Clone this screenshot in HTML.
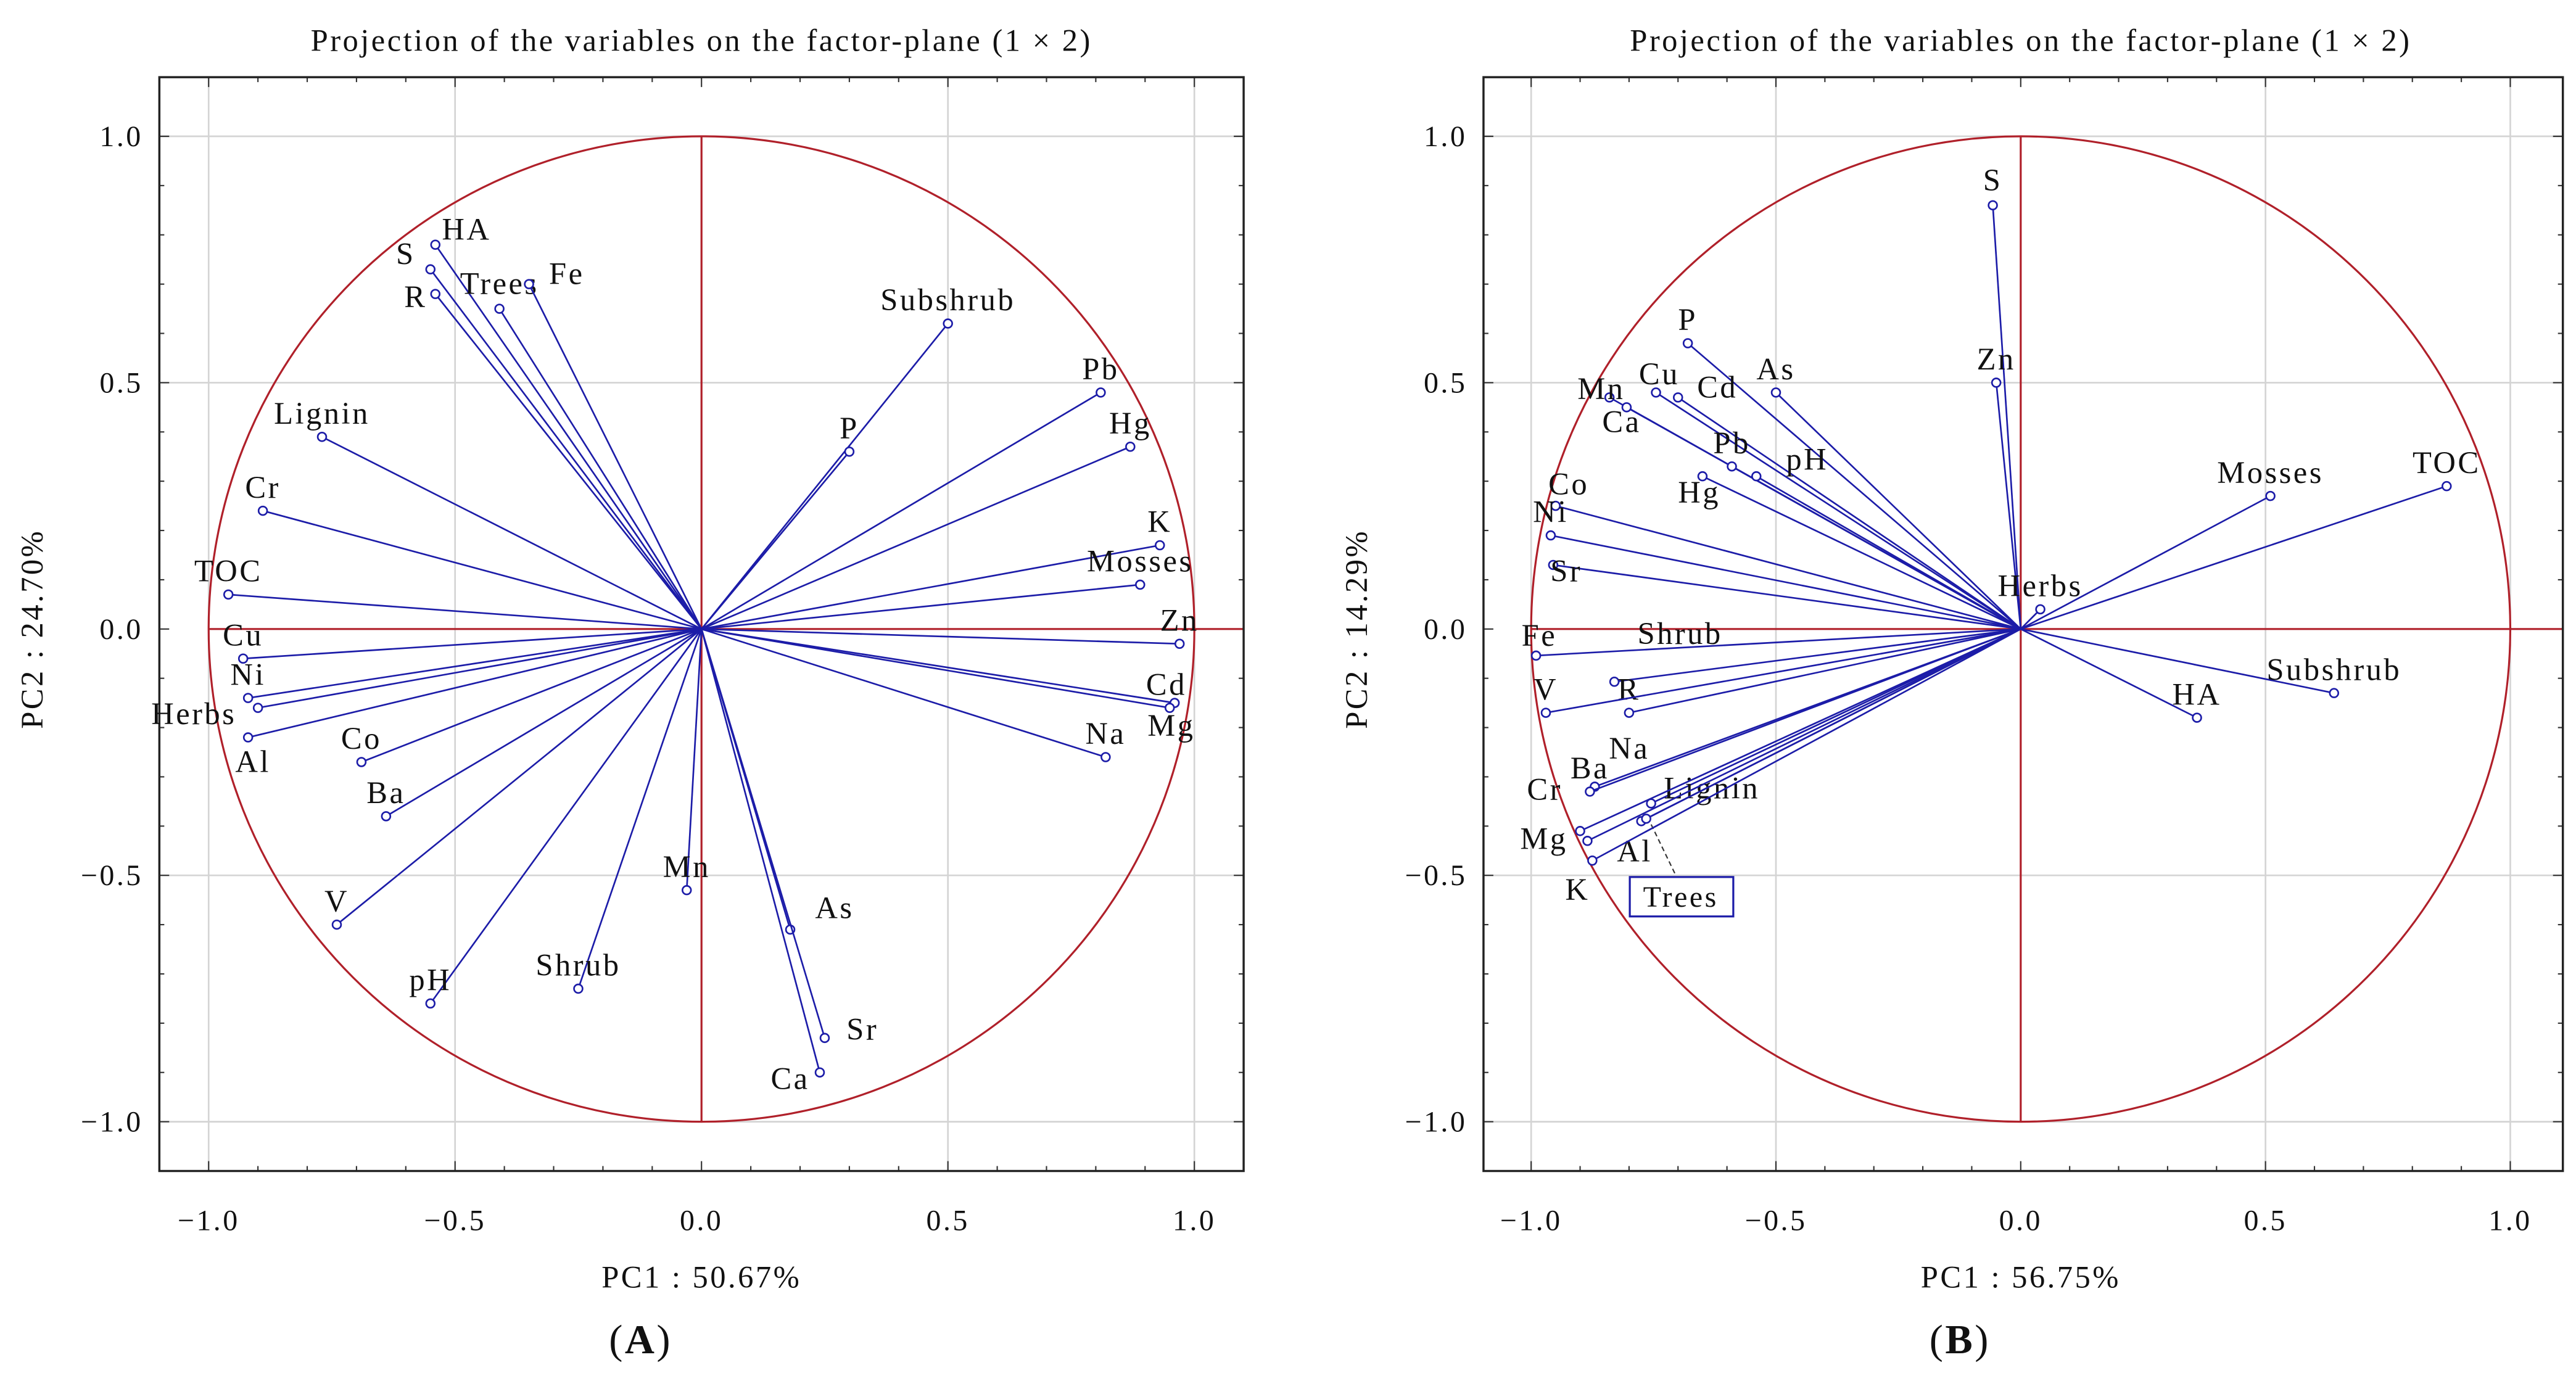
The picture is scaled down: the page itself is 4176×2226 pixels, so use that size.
<!DOCTYPE html>
<html><head><meta charset="utf-8"><style>
html,body{margin:0;padding:0;background:#fff;}
svg{display:block;}
text{font-family:"Liberation Serif",serif;fill:#111;letter-spacing:1.3px;}
</style></head>
<body>
<svg id="fig" width="4176" height="2226" viewBox="0 0 1568 836" preserveAspectRatio="none" xmlns="http://www.w3.org/2000/svg"></svg>
<script>
// Panel A data
const namesA = ["S","HA","R","Trees","Fe","Subshrub","P","Pb","Hg","K","Mosses","Zn","Cd","Mg","Na","Lignin","Cr","TOC","Cu","Ni","Herbs","Al","Co","Ba","V","pH","Shrub","Mn","As","Sr","Ca"];
const pc1A = [-0.55,-0.54,-0.54,-0.41,-0.35,0.50,0.30,0.81,0.87,0.93,0.89,0.97,0.96,0.95,0.82,-0.77,-0.89,-0.96,-0.93,-0.92,-0.90,-0.92,-0.69,-0.64,-0.74,-0.55,-0.25,-0.03,0.18,0.25,0.24];
const pc2A = [0.73,0.78,0.68,0.65,0.70,0.62,0.36,0.48,0.37,0.17,0.09,-0.03,-0.15,-0.16,-0.26,0.39,0.24,0.07,-0.06,-0.14,-0.16,-0.22,-0.27,-0.38,-0.60,-0.76,-0.73,-0.53,-0.61,-0.83,-0.90];
// Panel B data
const namesB = ["S","Zn","P","As","Cu","Cd","Mn","Ca","Pb","pH","Hg","Co","Ni","Sr","Herbs","Mosses","TOC","Subshrub","HA","Fe","Shrub","R","V","Na","Ba","Lignin","Trees","Al","Mg","Cr","K"];
const pc1B = [-0.057,-0.05,-0.68,-0.50,-0.745,-0.70,-0.84,-0.805,-0.59,-0.54,-0.65,-0.95,-0.96,-0.955,0.04,0.51,0.87,0.64,0.36,-0.99,-0.83,-0.80,-0.97,-0.87,-0.88,-0.755,-0.775,-0.765,-0.90,-0.885,-0.875];
const pc2B = [0.86,0.50,0.58,0.48,0.48,0.47,0.47,0.45,0.33,0.31,0.31,0.25,0.19,0.13,0.04,0.27,0.29,-0.13,-0.18,-0.054,-0.107,-0.17,-0.17,-0.32,-0.33,-0.354,-0.39,-0.385,-0.41,-0.43,-0.47];
const tickVals = [-1.0,-0.5,0.0,0.5,1.0];
const tickLabels = ["\u22121.0","\u22120.5","0.0","0.5","1.0"];

// label placement (styling only)
const offA = {S:[-15,-9],HA:[19,-9],R:[-12,2],Trees:[0,-15],Fe:[23,-6],Mg:[1,11],Herbs:[-39,4],Al:[3,15],As:[27,-13],Sr:[23,-5],Ca:[-18,4],Cd:[-5,-11]};
const offB = {S:[0,-15],Cu:[2,-11],Cd:[24,-6],Mn:[-5,-5],Ca:[-3,9],pH:[31,-10],Hg:[-2,10],Co:[8,-13],Sr:[8,4],Shrub:[40,-29],Na:[21,-23],Lignin:[37,-9],Al:[-7,20],Mg:[-22,5],Cr:[-26,-31],K:[-9,18],Fe:[2,-12]};

const NS="http://www.w3.org/2000/svg";
const svg=document.getElementById('fig');
function mk(tag,attrs,parent){const e=document.createElementNS(NS,tag);for(const k in attrs)e.setAttribute(k,attrs[k]);(parent||svg).appendChild(e);return e;}

function panel(cfg){
  const g=mk('g',{});
  
  
  const sx=v=>cfg.x0+v*cfg.ux, sy=v=>cfg.y0-v*cfg.uy;
  const L=cfg.left,R=cfg.right,T=47,B=713;
  tickVals.forEach(v=>{
    if(v!==0){
      const gx=mk('line',{x1:sx(v),x2:sx(v),y1:T,y2:B,stroke:'#d4d4d4','stroke-width':1},g);
      
      const gy=mk('line',{x1:L,x2:R,y1:sy(v),y2:sy(v),stroke:'#d4d4d4','stroke-width':1},g);
      
    }
  });
  for(let i=-10;i<=10;i++){
    const v=i/10,len=(i%5===0)?6:3;
    mk('line',{x1:sx(v),x2:sx(v),y1:B,y2:B-len,stroke:'#333','stroke-width':0.8},g);
    mk('line',{x1:sx(v),x2:sx(v),y1:T,y2:T+len,stroke:'#333','stroke-width':0.8},g);
    mk('line',{x1:L,x2:L+len,y1:sy(v),y2:sy(v),stroke:'#333','stroke-width':0.8},g);
    mk('line',{x1:R,x2:R-len,y1:sy(v),y2:sy(v),stroke:'#333','stroke-width':0.8},g);
  }
  const c=mk('ellipse',{cx:sx(0),cy:sy(0),rx:cfg.ux,ry:cfg.uy,fill:'none',stroke:'#b0202a','stroke-width':1.2},g);
  
  const ah=mk('line',{x1:sx(-1),x2:R,y1:sy(0),y2:sy(0),stroke:'#b0202a','stroke-width':1.2},g);
  
  const av=mk('line',{x1:sx(0),x2:sx(0),y1:sy(1),y2:sy(-1),stroke:'#b0202a','stroke-width':1.2},g);
  
  const fr=mk('rect',{x:L,y:T,width:R-L,height:B-T,fill:'none',stroke:'#222','stroke-width':1.3},g);
  
  tickVals.forEach((v,i)=>{
    const tx=mk('text',{x:sx(v),y:749,'text-anchor':'middle','font-size':18,'letter-spacing':'1.8'},g);
    tx.textContent=tickLabels[i];
    
    const ty=mk('text',{x:L-10,y:sy(v)+6,'text-anchor':'end','font-size':18,'letter-spacing':'1.8'},g);
    ty.textContent=tickLabels[i];
    
  });
  cfg.names.forEach((n,i)=>{
    const px=sx(cfg.p1[i]),py=sy(cfg.p2[i]);
    const ln=mk('line',{x1:sx(0),y1:sy(0),x2:px,y2:py,stroke:'#1c1ca8','stroke-width':1},g);
    
    
    const pt=mk('circle',{cx:px,cy:py,r:2.6,fill:'#fff',stroke:'#1c1ca8','stroke-width':1},g);
    
    
    if(cfg.boxed===n){
      const bx=px+24,by=py+46;
      mk('line',{x1:px+6,y1:py+2,x2:px+21,y2:py+33,stroke:'#333','stroke-width':0.8,'stroke-dasharray':'3,2'},g);
      const rb=mk('rect',{x:bx-31,y:by-12,width:63,height:24,fill:'#fff',stroke:'#1c1ca8','stroke-width':1.2},g);
      
      const t=mk('text',{x:bx,y:by+6,'text-anchor':'middle','font-size':18},g);
      t.textContent=n;
      
      
      return;
    }
    const o=cfg.off[n]||[0,-14];
    const t=mk('text',{x:px+o[0],y:py+o[1]+6,'text-anchor':'middle','font-size':19},g);
    t.textContent=n;
    
    
  });
  const tt=mk('text',{x:sx(0),y:31,'text-anchor':'middle','font-size':19},g);
  tt.textContent='Projection of the variables on the factor-plane (1 \u00d7 2)';
  
  const xl=mk('text',{x:sx(0),y:784,'text-anchor':'middle','font-size':19},g);
  xl.textContent=cfg.xlab;
  
  const yl=mk('text',{x:cfg.ylx,y:383,'text-anchor':'middle','font-size':19,transform:'rotate(-90 '+cfg.ylx+' 383)'},g);
  yl.textContent=cfg.ylab;
  
  const pl=mk('text',{x:cfg.plx,y:824,'text-anchor':'middle','font-size':25},g);
  pl.innerHTML='(<tspan font-weight="bold">'+cfg.letter+'</tspan>)';
  
}
panel({id:'panel-a',names:namesA,p1:pc1A,p2:pc2A,off:offA,x0:427,ux:300,y0:383,uy:300,left:97,right:757,xlab:'PC1 : 50.67%',ylab:'PC2 : 24.70%',ylx:26,plx:390,letter:'A'});
panel({id:'panel-b',names:namesB,p1:pc1B,p2:pc2B,off:offB,x0:1230,ux:298,y0:383,uy:300,left:903,right:1560,xlab:'PC1 : 56.75%',ylab:'PC2 : 14.29%',ylx:832,plx:1193,letter:'B',boxed:'Trees'});
</script>
</body></html>
